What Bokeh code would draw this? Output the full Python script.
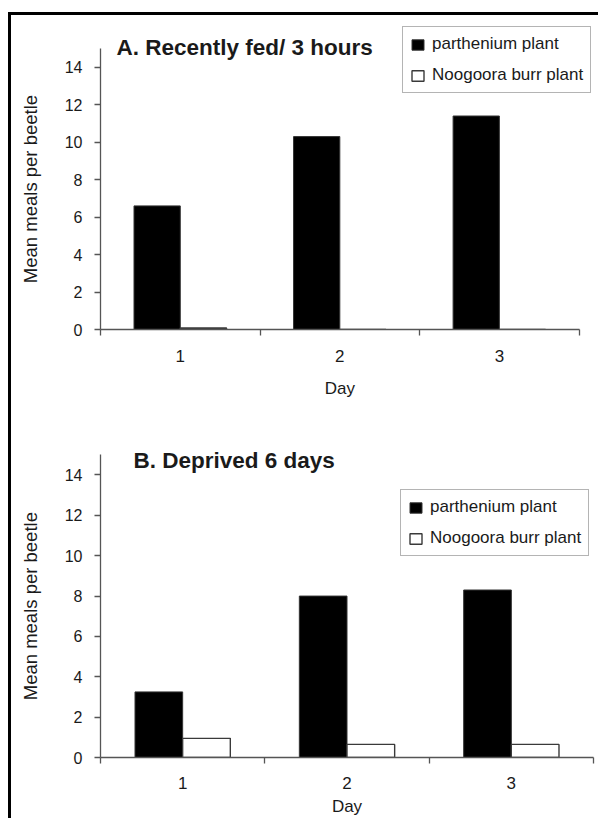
from bokeh.plotting import figure
from bokeh.models import (Legend, LegendItem, FixedTicker, Label, Range1d,
                          ColumnDataSource, LinearAxis)
from bokeh.layouts import column
from bokeh.transform import dodge
from bokeh.embed import file_html
from bokeh.resources import INLINE

# --- data -------------------------------------------------------------
days = [1, 2, 3]
day_labels = ["1", "2", "3"]
series_names = ["parthenium plant", "Noogoora burr plant"]

fed_parthenium = [6.6, 10.3, 11.4]
fed_noogoora = [0.08, 0.0, 0.0]

deprived_parthenium = [3.25, 8.0, 8.3]
deprived_noogoora = [0.95, 0.65, 0.65]

y_ticks = [0, 2, 4, 6, 8, 10, 12, 14]
y_axis_max = 15
x_axis_bounds = (0.5, 3.5)
x_title = "Day"
y_title = "Mean meals per beetle"

FONT = "Liberation Sans"
TEXT = "#1a1a1a"
AXIS = "#555555"
BAR_W = 0.29


def title_axis(at, text, size, standoff, orientation="horizontal"):
    """An axis with no line and no tick, whose single label is the axis title,
    so that the title is centred on the drawn axis rather than on the frame."""
    return LinearAxis(ticker=FixedTicker(ticks=[at], minor_ticks=[]),
                      major_label_overrides={at: text},
                      major_label_orientation=orientation,
                      major_label_standoff=standoff,
                      major_label_text_font=FONT,
                      major_label_text_font_size=size,
                      major_label_text_line_height=1.0,
                      major_label_text_color=TEXT,
                      axis_line_color=None, major_tick_line_color=None,
                      minor_tick_line_color=None,
                      major_tick_out=0, major_tick_in=0)


def make_panel(title, parthenium, noogoora, *, width, height, borders,
               x_end, y_end, title_x, title_dy, legend_xy,
               tick_standoff, xtitle_standoff):
    left, right, top, bottom = borders
    # the plot area is a little larger than the axes so that the heading and
    # the legend box, which sit above / beside the axes, are not clipped
    p = figure(width=width, height=height, title=None,
               x_range=Range1d(0.5, x_end), y_range=Range1d(0, y_end),
               toolbar_location=None, output_backend="svg",
               min_border_left=left, min_border_right=right,
               min_border_top=top, min_border_bottom=bottom)
    p.outline_line_color = None
    p.grid.visible = False
    p.background_fill_color = "white"
    p.border_fill_color = "white"

    src = ColumnDataSource(dict(day=days, parthenium=parthenium, noogoora=noogoora))
    r1 = p.vbar(x=dodge("day", -BAR_W / 2, range=p.x_range), top="parthenium",
                width=BAR_W, source=src, fill_color="black",
                line_color="#333333", line_width=1)
    r2 = p.vbar(x=dodge("day", BAR_W / 2, range=p.x_range), top="noogoora",
                width=BAR_W, source=src, fill_color="white",
                line_color="#3a3a3a", line_width=1.4)

    # x axis: labels under each day, ticks on the boundaries between days
    xa = p.xaxis[0]
    xa.bounds = x_axis_bounds
    xa.ticker = FixedTicker(ticks=days, minor_ticks=[0.5, 1.5, 2.5, 3.5])
    xa.major_label_overrides = {d: lab for d, lab in zip(days, day_labels)}
    xa.major_tick_out = 0
    xa.major_tick_in = 0
    xa.minor_tick_out = 6
    xa.minor_tick_in = 0
    xa.minor_tick_line_color = AXIS
    xa.minor_tick_line_width = 1.3

    ya = p.yaxis[0]
    ya.bounds = (0, y_axis_max)
    ya.ticker = FixedTicker(ticks=y_ticks, minor_ticks=[])
    ya.major_tick_out = 6
    ya.major_tick_in = 0

    for ax in (xa, ya):
        ax.axis_line_color = AXIS
        ax.axis_line_width = 1.3
        ax.major_tick_line_color = AXIS
        ax.major_tick_line_width = 1.3
        ax.major_label_text_font = FONT
        ax.major_label_text_color = TEXT
    xa.major_label_text_font_size = "17px"
    xa.major_label_text_line_height = 1.0
    xa.major_label_standoff = tick_standoff
    ya.major_label_text_font_size = "16px"
    ya.major_label_standoff = 12

    # axis titles, centred on the middle of each drawn axis
    p.add_layout(title_axis(sum(x_axis_bounds) / 2, x_title, "17px",
                            xtitle_standoff), "below")
    p.add_layout(title_axis(y_axis_max / 2, y_title, "18.5px", 20,
                            orientation="vertical"), "left")

    p.add_layout(Label(x=title_x, x_units="screen", y=y_axis_max, y_units="data",
                       y_offset=title_dy, text=title, text_font=FONT,
                       text_font_size="22.5px", text_font_style="bold",
                       text_color=TEXT, text_baseline="alphabetic"))

    legend = Legend(items=[LegendItem(label=series_names[0], renderers=[r1]),
                           LegendItem(label=series_names[1], renderers=[r2])],
                    location=legend_xy, orientation="vertical")
    legend.label_text_font = FONT
    legend.label_text_font_size = "17px"
    legend.label_text_color = TEXT
    legend.glyph_width = 15
    legend.glyph_height = 13
    legend.label_height = 16
    legend.label_standoff = 7
    legend.spacing = 11
    legend.padding = 7
    legend.margin = 0
    legend.border_line_color = "#6a6a6a"
    legend.border_line_width = 1.5
    legend.background_fill_color = "white"
    legend.background_fill_alpha = 1
    p.add_layout(legend, "center")
    return p


p1 = make_panel("A. Recently fed/ 3 hours", fed_parthenium, fed_noogoora,
                width=587, height=385, borders=(88, 0, 5, 70),
                x_end=3.59, y_end=16.5, title_x=16, title_dy=1,
                legend_xy=(302, 236), tick_standoff=14, xtitle_standoff=14)
p2 = make_panel("B. Deprived 6 days", deprived_parthenium, deprived_noogoora,
                width=587, height=418, borders=(89, 5, 20, 61),
                x_end=3.5, y_end=16.7, title_x=33, title_dy=-6,
                legend_xy=(300, 201), tick_standoff=13, xtitle_standoff=5)

page = column(p1, p2, margin=(12, 0, 0, 8),
              styles={"border-left": "3px solid #000", "border-top": "3px solid #000"})

open("out.html", "w").write(file_html(page, INLINE))
